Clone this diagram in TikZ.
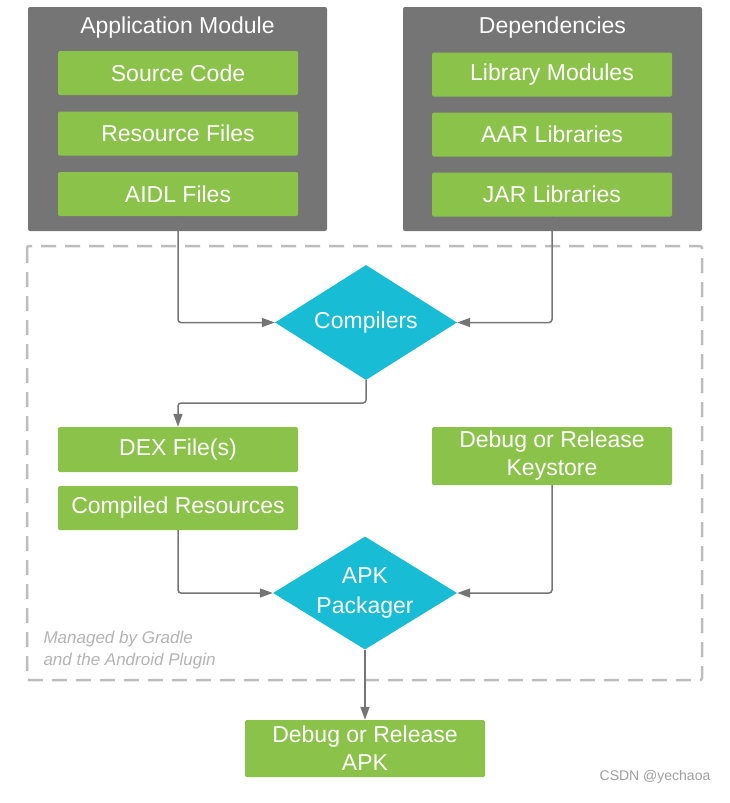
\documentclass[tikz,border=0pt]{standalone}
\usepackage{fontspec}
\setmainfont{Liberation Sans}
\usepackage{xcolor}
\usetikzlibrary{shapes.geometric, arrows.meta, positioning, calc}

\definecolor{modgray}{HTML}{757575}
\definecolor{boxgreen}{HTML}{8BC34A}
\definecolor{toolcyan}{HTML}{18BCD4}
\definecolor{dashgray}{HTML}{BDBDBD}
\definecolor{notegray}{HTML}{B4B4B4}

\tikzset{
    group/.style={fill=modgray, rounded corners=2pt, inner sep=0pt,
        minimum width=299pt, minimum height=224pt},
    grouptitle/.style={text=white, font=\fontsize{23}{26}\selectfont},
    item/.style={fill=boxgreen, text=white, rounded corners=1.5pt, inner sep=0pt,
        minimum width=240pt, minimum height=44pt, align=center,
        font=\fontsize{23}{28}\selectfont},
    tool/.style={diamond, aspect=1.6, fill=toolcyan, text=white, inner sep=-8pt,
        align=center, font=\fontsize{23}{30}\selectfont},
    flow/.style={draw=modgray, line width=1.5pt, rounded corners=3pt,
        -{Triangle[length=13pt, width=9pt]}}
}

\begin{document}
\begin{tikzpicture}[x=1pt, y=-1pt]
    \path[use as bounding box] (0,0) rectangle (729,803);

    % Gradle region
    \draw[dashgray, line width=2.5pt, dash pattern=on 15pt off 9pt, rounded corners=2pt]
        (27,246) rectangle (702,680);
    \node[anchor=north west, align=left, text=notegray,
        font=\fontsize{17}{22}\selectfont\itshape] (note) at (40,628)
        {Managed by Gradle\\and the Android Plugin};

    % Input groups
    \node[group] (appmod) at (177.5,119) {};
    \node[grouptitle] (apptitle) at (177.5,28) {Application Module};
    \node[group] (deps) at (552.5,119) {};
    \node[grouptitle] (depstitle) at (552.5,28) {Dependencies};

    \foreach \name/\txt [count=\i] in {src/Source Code, res/Resource Files, aidl/AIDL Files} {
        \node[item] (\name) at (178,{12.5+60.5*\i}) {\txt};
    }
    \foreach \name/\txt [count=\i] in {lib/Library Modules, aar/AAR Libraries, jar/JAR Libraries} {
        \node[item] (\name) at (552,{14.5+60*\i}) {\txt};
    }

    % Compilers
    \node[tool, minimum width=182pt, minimum height=115pt] (comp) at (366,322.5) {Compilers};

    % Intermediate outputs
    \node[item, minimum height=45pt] (dex) at (178,449.5) {DEX File(s)};
    \node[item] (cres) at (178,508) {Compiled Resources};
    \node[item, minimum height=58pt] (keys) at (552,456) {Debug or Release\\Keystore};

    % Packager and result
    \node[tool, minimum width=184pt, minimum height=113pt] (apk) at (365,593) {APK\\Packager};
    \node[item, minimum height=57pt] (out) at (365,748.5) {Debug or Release\\APK};

    % Connectors
    \coordinate (split) at (366,403);
    \draw[flow] (aidl.south) |- (comp.west);
    \draw[flow] (jar.south) |- (comp.east);
    \draw[flow] (comp.south) -- (split) -| (dex.north);
    \draw[flow] (cres.south) |- (apk.west);
    \draw[flow] (keys.south) |- (apk.east);
    \draw[flow] (apk.south) -- (out.north);

    % Watermark
    \node[text=gray!75, font=\fontsize{14}{16}\selectfont] (mark) at (655,777) {CSDN @yechaoa};
\end{tikzpicture}
\end{document}
